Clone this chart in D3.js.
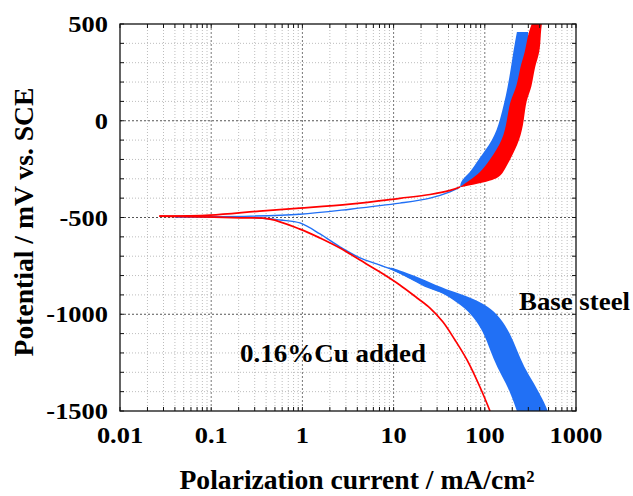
<!DOCTYPE html>
<html>
<head>
<meta charset="utf-8">
<script src="https://cdn.jsdelivr.net/npm/d3@7"></script>
<style>
  body { margin: 0; background: #fff; }
</style>
</head>
<body>
<div id="chart"></div>
<script>
// tick values
const xTicks = [0.01, 0.1, 1, 10, 100, 1000];
const xTickLabels = ['0.01', '0.1', '1', '10', '100', '1000'];
const yTicks = [500, 0, -500, -1000, -1500];

// 0.16%Cu added (red): [current mA/cm2, potential mV]
const redCathodic = [[114, -1500], [88.5, -1376], [63.8, -1236], [47.1, -1133], [34.8, -1040], [25.1, -968],
  [18.1, -916], [11.7, -849], [7.09, -782], [4.28, -720], [2.58, -658], [1.56, -606], [0.94, -560],
  [0.44, -508], [0.21, -502], [0.075, -497], [0.027, -493]];
const redAnodic = [[0.027, -493], [0.097, -488], [0.34, -467], [0.94, -452], [3.33, -431], [11.7, -401],
  [25.1, -381], [41.5, -360], [53.5, -342]];
// noisy anodic band: [potential, low current, high current]
const redAnodicBand = [[-342, 53.5, 56], [-306, 68.8, 136], [-270, 88.5, 158], [-203, 114, 189],
  [-99, 158, 243], [0, 175, 269], [107, 189, 283], [174, 225, 330], [278, 243, 350], [350, 276, 403],
  [453, 298, 410], [500, 330, 424], [520, 330, 424]];

// Base steel (blue)
const blueCathodic = [[36.6, -890], [23.2, -859], [15.1, -813], [9.85, -771], [7.09, -746], [4.28, -709],
  [2.58, -652], [1.56, -585], [0.94, -528], [0.57, -513], [0.27, -499], [0.04, -497]];
const blueAnodic = [[0.04, -497], [0.27, -493], [0.94, -483], [3.33, -457], [11.7, -426], [25.1, -400],
  [41.5, -368], [53.5, -342]];
const blueCathodicBand = [[-760, 8.5, 9.6], [-800, 13, 17], [-850, 21, 29], [-890, 34, 50],
  [-925, 45, 80], [-960, 57, 108], [-1014, 76, 147], [-1097, 98, 189], [-1185, 114, 225],
  [-1273, 136, 269], [-1355, 171, 346], [-1443, 204, 435], [-1500, 225, 493], [-1520, 230, 500]];
const blueAnodicBand = [[-342, 53.5, 54], [-306, 55, 73], [-270, 68.8, 98], [-203, 84, 124],
  [-99, 124, 175], [0, 147, 204], [174, 180, 262], [350, 204, 298], [459, 225, 298]];

const red = '#ff0000';
const blue = '#2170f5';
const font = '"Liberation Serif"';

const svg = d3.select('#chart').append('svg')
  .attr('width', 633)
  .attr('height', 496);

const x = d3.scaleLog().domain([0.01, 1000]).range([120, 576]);
const y = d3.scaleLinear().domain([-1500, 500]).range([411, 24]);

// minor positions
const xMinor = [];
[0.01, 0.1, 1, 10, 100].forEach((d) => {
  for (let k = 2; k <= 9; k++) xMinor.push(d * k);
});
const yMinor = d3.range(-1400, 500, 100).filter((v) => v % 500 !== 0);

const grid = svg.append('g');
grid.selectAll('line.xminor')
  .data(xMinor)
  .join('line')
  .attr('class', 'xminor')
  .attr('x1', (d) => x(d)).attr('x2', (d) => x(d))
  .attr('y1', 24).attr('y2', 411)
  .attr('stroke', '#bdbdbd')
  .attr('stroke-dasharray', '1,2');
grid.selectAll('line.yminor')
  .data(yMinor)
  .join('line')
  .attr('class', 'yminor')
  .attr('y1', (d) => y(d)).attr('y2', (d) => y(d))
  .attr('x1', 120).attr('x2', 576)
  .attr('stroke', '#bdbdbd')
  .attr('stroke-dasharray', '1,2');
grid.selectAll('line.xmajor')
  .data(xTicks.slice(1, -1))
  .join('line')
  .attr('class', 'xmajor')
  .attr('x1', (d) => x(d)).attr('x2', (d) => x(d))
  .attr('y1', 24).attr('y2', 411)
  .attr('stroke', '#777')
  .attr('stroke-dasharray', '2,2');
grid.selectAll('line.ymajor')
  .data(yTicks.slice(1, -1))
  .join('line')
  .attr('class', 'ymajor')
  .attr('y1', (d) => y(d)).attr('y2', (d) => y(d))
  .attr('x1', 120).attr('x2', 576)
  .attr('stroke', '#555')
  .attr('stroke-dasharray', '2,2');

// curves
svg.append('clipPath').attr('id', 'clip')
  .append('rect').attr('x', 120).attr('y', 24).attr('width', 456).attr('height', 387);
const plot = svg.append('g').attr('clip-path', 'url(#clip)');

const line = d3.line()
  .x((d) => x(d[0]))
  .y((d) => y(d[1]))
  .curve(d3.curveCatmullRom.alpha(0.5));
const band = d3.area()
  .y((d) => y(d[0]))
  .x0((d) => x(d[1]))
  .x1((d) => x(d[2]))
  .curve(d3.curveBasis);

plot.append('path').datum(blueCathodicBand).attr('d', band).attr('fill', blue);
plot.append('path').datum(blueAnodicBand).attr('d', band).attr('fill', blue);
plot.append('path').datum(blueCathodic).attr('d', line)
  .attr('fill', 'none').attr('stroke', blue).attr('stroke-width', 1.4);
plot.append('path').datum(blueAnodic).attr('d', line)
  .attr('fill', 'none').attr('stroke', blue).attr('stroke-width', 1.4);

plot.append('path').datum(redAnodicBand).attr('d', band).attr('fill', red);
plot.append('path').datum(redCathodic).attr('d', line)
  .attr('fill', 'none').attr('stroke', red).attr('stroke-width', 1.7);
plot.append('path').datum(redAnodic).attr('d', line)
  .attr('fill', 'none').attr('stroke', red).attr('stroke-width', 1.7);

// frame and inward ticks
svg.append('rect')
  .attr('x', 120).attr('y', 24).attr('width', 456).attr('height', 387)
  .attr('fill', 'none').attr('stroke', '#111').attr('stroke-width', 1.3);
const ticks = svg.append('g').attr('stroke', '#111');
ticks.selectAll('line.bt')
  .data(xMinor.concat(xTicks))
  .join('line')
  .attr('class', 'bt')
  .attr('x1', (d) => x(d)).attr('x2', (d) => x(d))
  .attr('y1', 411).attr('y2', 407);
ticks.selectAll('line.tt')
  .data(xMinor.concat(xTicks))
  .join('line')
  .attr('class', 'tt')
  .attr('x1', (d) => x(d)).attr('x2', (d) => x(d))
  .attr('y1', 24).attr('y2', 28);
ticks.selectAll('line.rt')
  .data(yMinor.concat(yTicks))
  .join('line')
  .attr('class', 'rt')
  .attr('y1', (d) => y(d)).attr('y2', (d) => y(d))
  .attr('x1', 576).attr('x2', 572);
ticks.selectAll('line.lt')
  .data(yMinor.concat(yTicks))
  .join('line')
  .attr('class', 'lt')
  .attr('y1', (d) => y(d)).attr('y2', (d) => y(d))
  .attr('x1', 120).attr('x2', 124);

// tick labels
svg.selectAll('text.ylab')
  .data(yTicks)
  .join('text')
  .attr('class', 'ylab')
  .style('font-family', font)
  .attr('font-weight', 'bold')
  .attr('text-anchor', 'end')
  .attr('font-size', 23)
  .attr('transform', (d) => `translate(108,${y(d) + 8}) scale(1.15,1)`)
  .text((d) => d);
svg.selectAll('text.xlab')
  .data(xTicks)
  .join('text')
  .attr('class', 'xlab')
  .style('font-family', font)
  .attr('font-weight', 'bold')
  .attr('text-anchor', 'middle')
  .attr('font-size', 24)
  .attr('transform', (d) => `translate(${x(d)},443) scale(1.1,1)`)
  .text((d, i) => xTickLabels[i]);

// axis titles
svg.append('text')
  .style('font-family', font)
  .attr('font-weight', 'bold')
  .attr('transform', 'translate(33,222) rotate(-90)')
  .attr('text-anchor', 'middle')
  .attr('font-size', 27)
  .attr('textLength', 269)
  .attr('lengthAdjust', 'spacingAndGlyphs')
  .text('Potential /  mV vs. SCE');
svg.append('text')
  .style('font-family', font)
  .attr('font-weight', 'bold')
  .attr('x', 357).attr('y', 489)
  .attr('text-anchor', 'middle')
  .attr('font-size', 27)
  .attr('textLength', 355)
  .attr('lengthAdjust', 'spacingAndGlyphs')
  .text('Polarization current /  mA/cm²');

// series labels
svg.append('text')
  .style('font-family', font)
  .attr('font-weight', 'bold')
  .attr('x', 519).attr('y', 310)
  .attr('font-size', 26)
  .attr('textLength', 111)
  .attr('lengthAdjust', 'spacingAndGlyphs')
  .text('Base steel');
svg.append('text')
  .style('font-family', font)
  .attr('font-weight', 'bold')
  .attr('x', 240).attr('y', 362)
  .attr('font-size', 26)
  .attr('textLength', 186)
  .attr('lengthAdjust', 'spacingAndGlyphs')
  .text('0.16%Cu added');
</script>
</body>
</html>
